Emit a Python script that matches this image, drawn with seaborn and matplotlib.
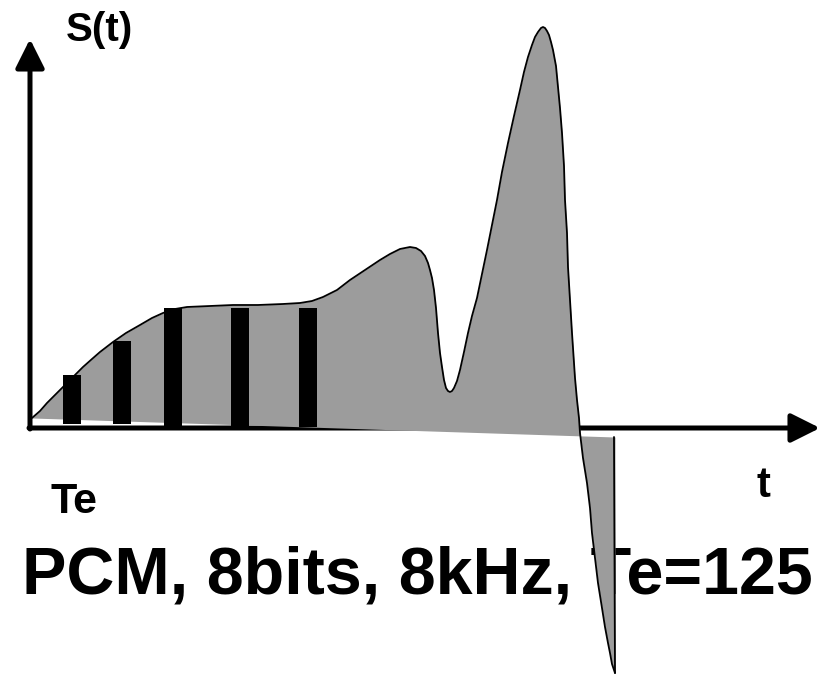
import matplotlib
matplotlib.use("Agg")
import matplotlib.pyplot as plt
import seaborn as sns
import numpy as np

# signal outline (t = time from origin, s = amplitude), px units
curve_t = [2, 10, 17, 25, 33, 43, 53, 62, 70, 83, 96, 110, 122, 133, 145, 157, 180,
           203, 228, 253, 270, 282, 293, 307, 320, 335, 350, 360, 370, 380, 386, 391,
           395, 398, 400, 402, 404, 406, 408, 410, 412, 414, 416, 418, 420, 422, 424,
           427, 430, 434, 438, 442, 447, 452, 457, 462, 467, 472, 478, 484, 490, 494,
           498, 502, 505, 508, 511, 513, 515, 517, 519, 521, 523, 526, 528, 530, 532,
           534, 535, 537, 538, 540, 542, 545, 547, 549, 550, 553, 557, 560, 562, 565,
           568, 572, 575, 578, 580, 582, 585]
curve_s = [10, 17, 25, 33, 41, 51, 61, 69, 76, 86, 95, 103, 110, 115, 119, 121, 122,
           123, 123, 124, 125, 127, 131, 138, 148, 158, 168, 174, 179, 181, 180, 177,
           172, 165, 158, 150, 138, 120, 95, 75, 61, 48, 40, 37, 36, 37, 40,
           47, 58, 76, 95, 112, 130, 154, 178, 203, 228, 256, 285, 312, 338, 356,
           371, 383, 391, 396, 400, 401, 400, 397, 393, 386, 378, 362, 341, 320, 295,
           262, 228, 195, 161, 128, 95, 50, 28, 10, -5, -30, -55, -80, -105, -130,
           -155, -180, -199, -215, -225, -236, -245]

# lower edge of the grey area (a straight, slightly sloped line)
base_t = [2, 585]
base_s = [10, -9]

# PCM samples
sample_t = [42, 92.5, 143, 210.5, 278]
sample_top = [53, 87, 120, 120, 120]
sample_bottom = [4, 4, 2, 2, 1]

sns.set_style("white")
plt.rcParams["font.family"] = ["Liberation Sans", "DejaVu Sans"]

fig = plt.figure(figsize=(8.2, 6.75), dpi=100)
ax = fig.add_axes([0, 0, 1, 1])
ax.set_xlim(-30, 790)
ax.set_ylim(-247, 428)
ax.axis("off")

grey = "#9c9c9c"

# axes with arrow heads
arrow = dict(arrowstyle="-|>,head_length=0.4,head_width=0.2", color="black",
             lw=3.6, mutation_scale=44, shrinkA=0, shrinkB=0)
ax.annotate("", xy=(0, 389), xytext=(0, -1), arrowprops=arrow, zorder=1)
ax.annotate("", xy=(790, 0), xytext=(-1, 0), arrowprops=arrow, zorder=1)

# labels
txt = dict(fontweight="bold", va="baseline", color="black", zorder=1)
ax.text(36, 387, "S(t)", fontsize=29, **txt)
ax.text(21, -85, "Te", fontsize=31, **txt)
ax.text(727, -69, "t", fontsize=30, **txt)
ax.text(-8, -165, "PCM, 8bits, 8kHz, Te=125", fontsize=47.8, **txt)

# grey signal area
t = np.array(curve_t, dtype=float)
s = np.array(curve_s, dtype=float)
base = np.interp(t, base_t, base_s)
ax.fill_between(t, s, base, color=grey, lw=0, zorder=2)

# samples
ax.bar(sample_t, np.array(sample_top) - np.array(sample_bottom), bottom=sample_bottom,
       width=18, color="black", edgecolor="none", linewidth=0, zorder=3)

# outline
sns.lineplot(x=t, y=s, sort=False, estimator=None, color="black", lw=1.3, ax=ax, zorder=4)
sns.lineplot(x=[curve_t[-1], base_t[-1] - 1], y=[curve_s[-1], base_s[-1]], sort=False,
             estimator=None, color="black", lw=1.3, ax=ax, zorder=4)

fig.savefig("out.png", dpi=100)
